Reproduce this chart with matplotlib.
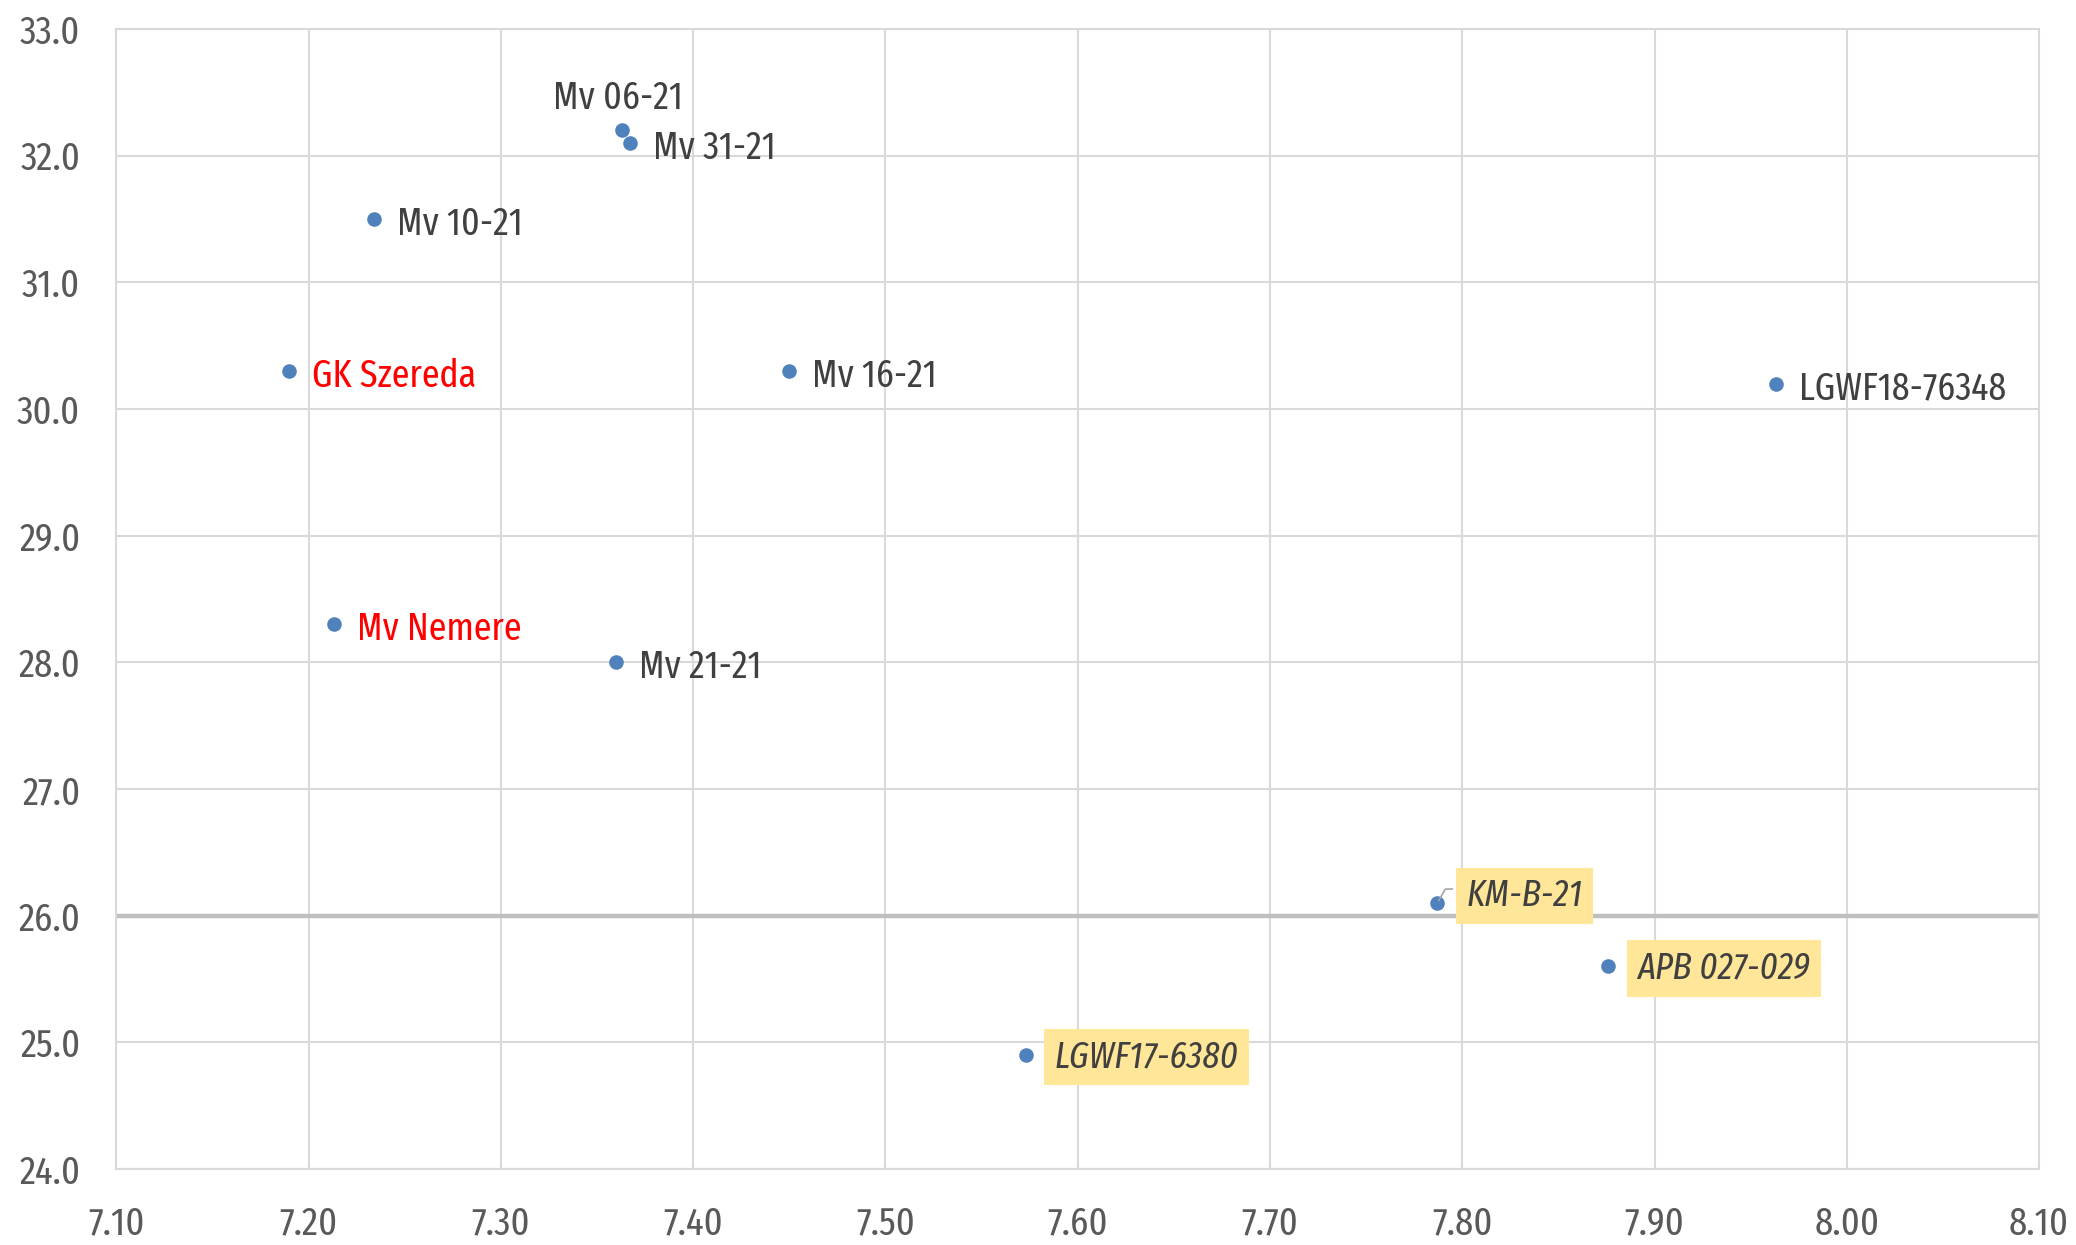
import os
import matplotlib
matplotlib.use("Agg")
import matplotlib.pyplot as plt
from matplotlib import font_manager as fm
from matplotlib.font_manager import FontProperties

names = ["Mv 06-21", "Mv 31-21", "Mv 10-21", "GK Szereda", "Mv 16-21", "LGWF18-76348",
         "Mv Nemere", "Mv 21-21", "KM-B-21", "APB 027-029", "LGWF17-6380"]
x_vals = [7.363, 7.367, 7.234, 7.190, 7.450, 7.963, 7.213, 7.360, 7.787, 7.876, 7.573]
y_vals = [32.2, 32.1, 31.5, 30.3, 30.3, 30.2, 28.3, 28.0, 26.1, 25.6, 24.9]
label_style = ["normal", "normal", "normal", "red", "normal", "normal",
               "red", "normal", "highlight", "highlight", "highlight"]
x_ticks = [7.10, 7.20, 7.30, 7.40, 7.50, 7.60, 7.70, 7.80, 7.90, 8.00, 8.10]
y_ticks = [24.0, 25.0, 26.0, 27.0, 28.0, 29.0, 30.0, 31.0, 32.0, 33.0]
threshold = 26.0

BAD = ("bold", "light", "thin", "black", "medium", "semibold", "extrabold", "heavy")
FAM_ORDER = ["roboto", "noto", "opensans", "liberation", "lato", "inter", "dejavu"]
WID_ORDER = ["extracondensed", "narrow", "condensed", "semicondensed"]


def pick(italic):
    best = None
    for f in fm.fontManager.ttflist:
        b = os.path.basename(f.fname).lower().replace("_", "").replace("-", "")
        if not ("condensed" in b or "narrow" in b):
            continue
        if any(w in b for w in BAD):
            continue
        is_it = ("italic" in b or "oblique" in b)
        if is_it != italic:
            continue
        if "cjk" in b or "mono" in b or "serif" in b:
            continue
        if not b.endswith((".ttf", ".otf")):
            continue
        wr = next((i for i, w in enumerate(WID_ORDER) if w in b), 9)
        if "semicondensed" in b:
            wr = 3
        fr = next((i for i, w in enumerate(FAM_ORDER) if w in b), 9)
        key = (wr, fr)
        if best is None or key < best[0]:
            best = (key, f.fname)
    return best[1] if best else None


reg = pick(False)
ita = pick(True)
FP = FontProperties(fname=reg) if reg else FontProperties(family="DejaVu Sans", stretch="condensed")
FPI = FontProperties(fname=ita) if ita else FontProperties(family="DejaVu Sans", stretch="condensed", style="italic")

fig = plt.figure(figsize=(20.76, 12.45), dpi=100)
ax = fig.add_axes([0.0561, 0.0610, 0.9261, 0.9157])

ax.set_xlim(x_ticks[0], x_ticks[-1])
ax.set_ylim(y_ticks[0], y_ticks[-1])
ax.set_xticks(x_ticks)
ax.set_yticks(y_ticks)
ax.set_xticklabels([f"{v:.2f}" for v in x_ticks])
ax.set_yticklabels([f"{v:.1f}" for v in y_ticks])
ax.grid(True, color="#d9d9d9", linewidth=1.5, zorder=0)
ax.set_axisbelow(True)
for s in ax.spines.values():
    s.set_color("#d9d9d9")
    s.set_linewidth(1.5)
ax.tick_params(length=0, labelcolor="#595959", pad=26)
for t in ax.get_xticklabels() + ax.get_yticklabels():
    t.set_fontproperties(FP)
    t.set_fontsize(28.5)

ax.axhline(threshold, color="#bfbfbf", linewidth=3.2, zorder=1)

ax.scatter(x_vals, y_vals, s=110, color="#4f81bd", zorder=3, linewidths=0)

offsets = {
    "Mv 06-21": (-69, 32),
}
for n, xv, yv, st in zip(names, x_vals, y_vals, label_style):
    dx, dy = offsets.get(n, (23, -5))
    kw = dict(color="#404040", va="center", ha="left", fontproperties=FP)
    size = 28
    if st == "red":
        kw["color"] = "#ff0000"
    if st == "highlight":
        kw["fontproperties"] = FPI
        kw["bbox"] = dict(boxstyle="square,pad=0.28", facecolor="#ffe699", edgecolor="none")
        size = 27
        dx, dy = 29, -2
        if n == "KM-B-21":
            dx, dy = 29, 7
    t = ax.annotate(n, (xv, yv), xytext=(dx, dy), textcoords="offset pixels", zorder=4, **kw)
    t.set_fontsize(size)

# leader line for KM-B-21
i = names.index("KM-B-21")
ax.annotate("", (x_vals[i], y_vals[i]), xytext=(18, 14), textcoords="offset pixels",
            arrowprops=dict(arrowstyle="-", color="#a6a6a6", lw=1.2,
                            connectionstyle="angle,angleA=0,angleB=60,rad=0"), zorder=3)

fig.savefig("out.png", dpi=100)
